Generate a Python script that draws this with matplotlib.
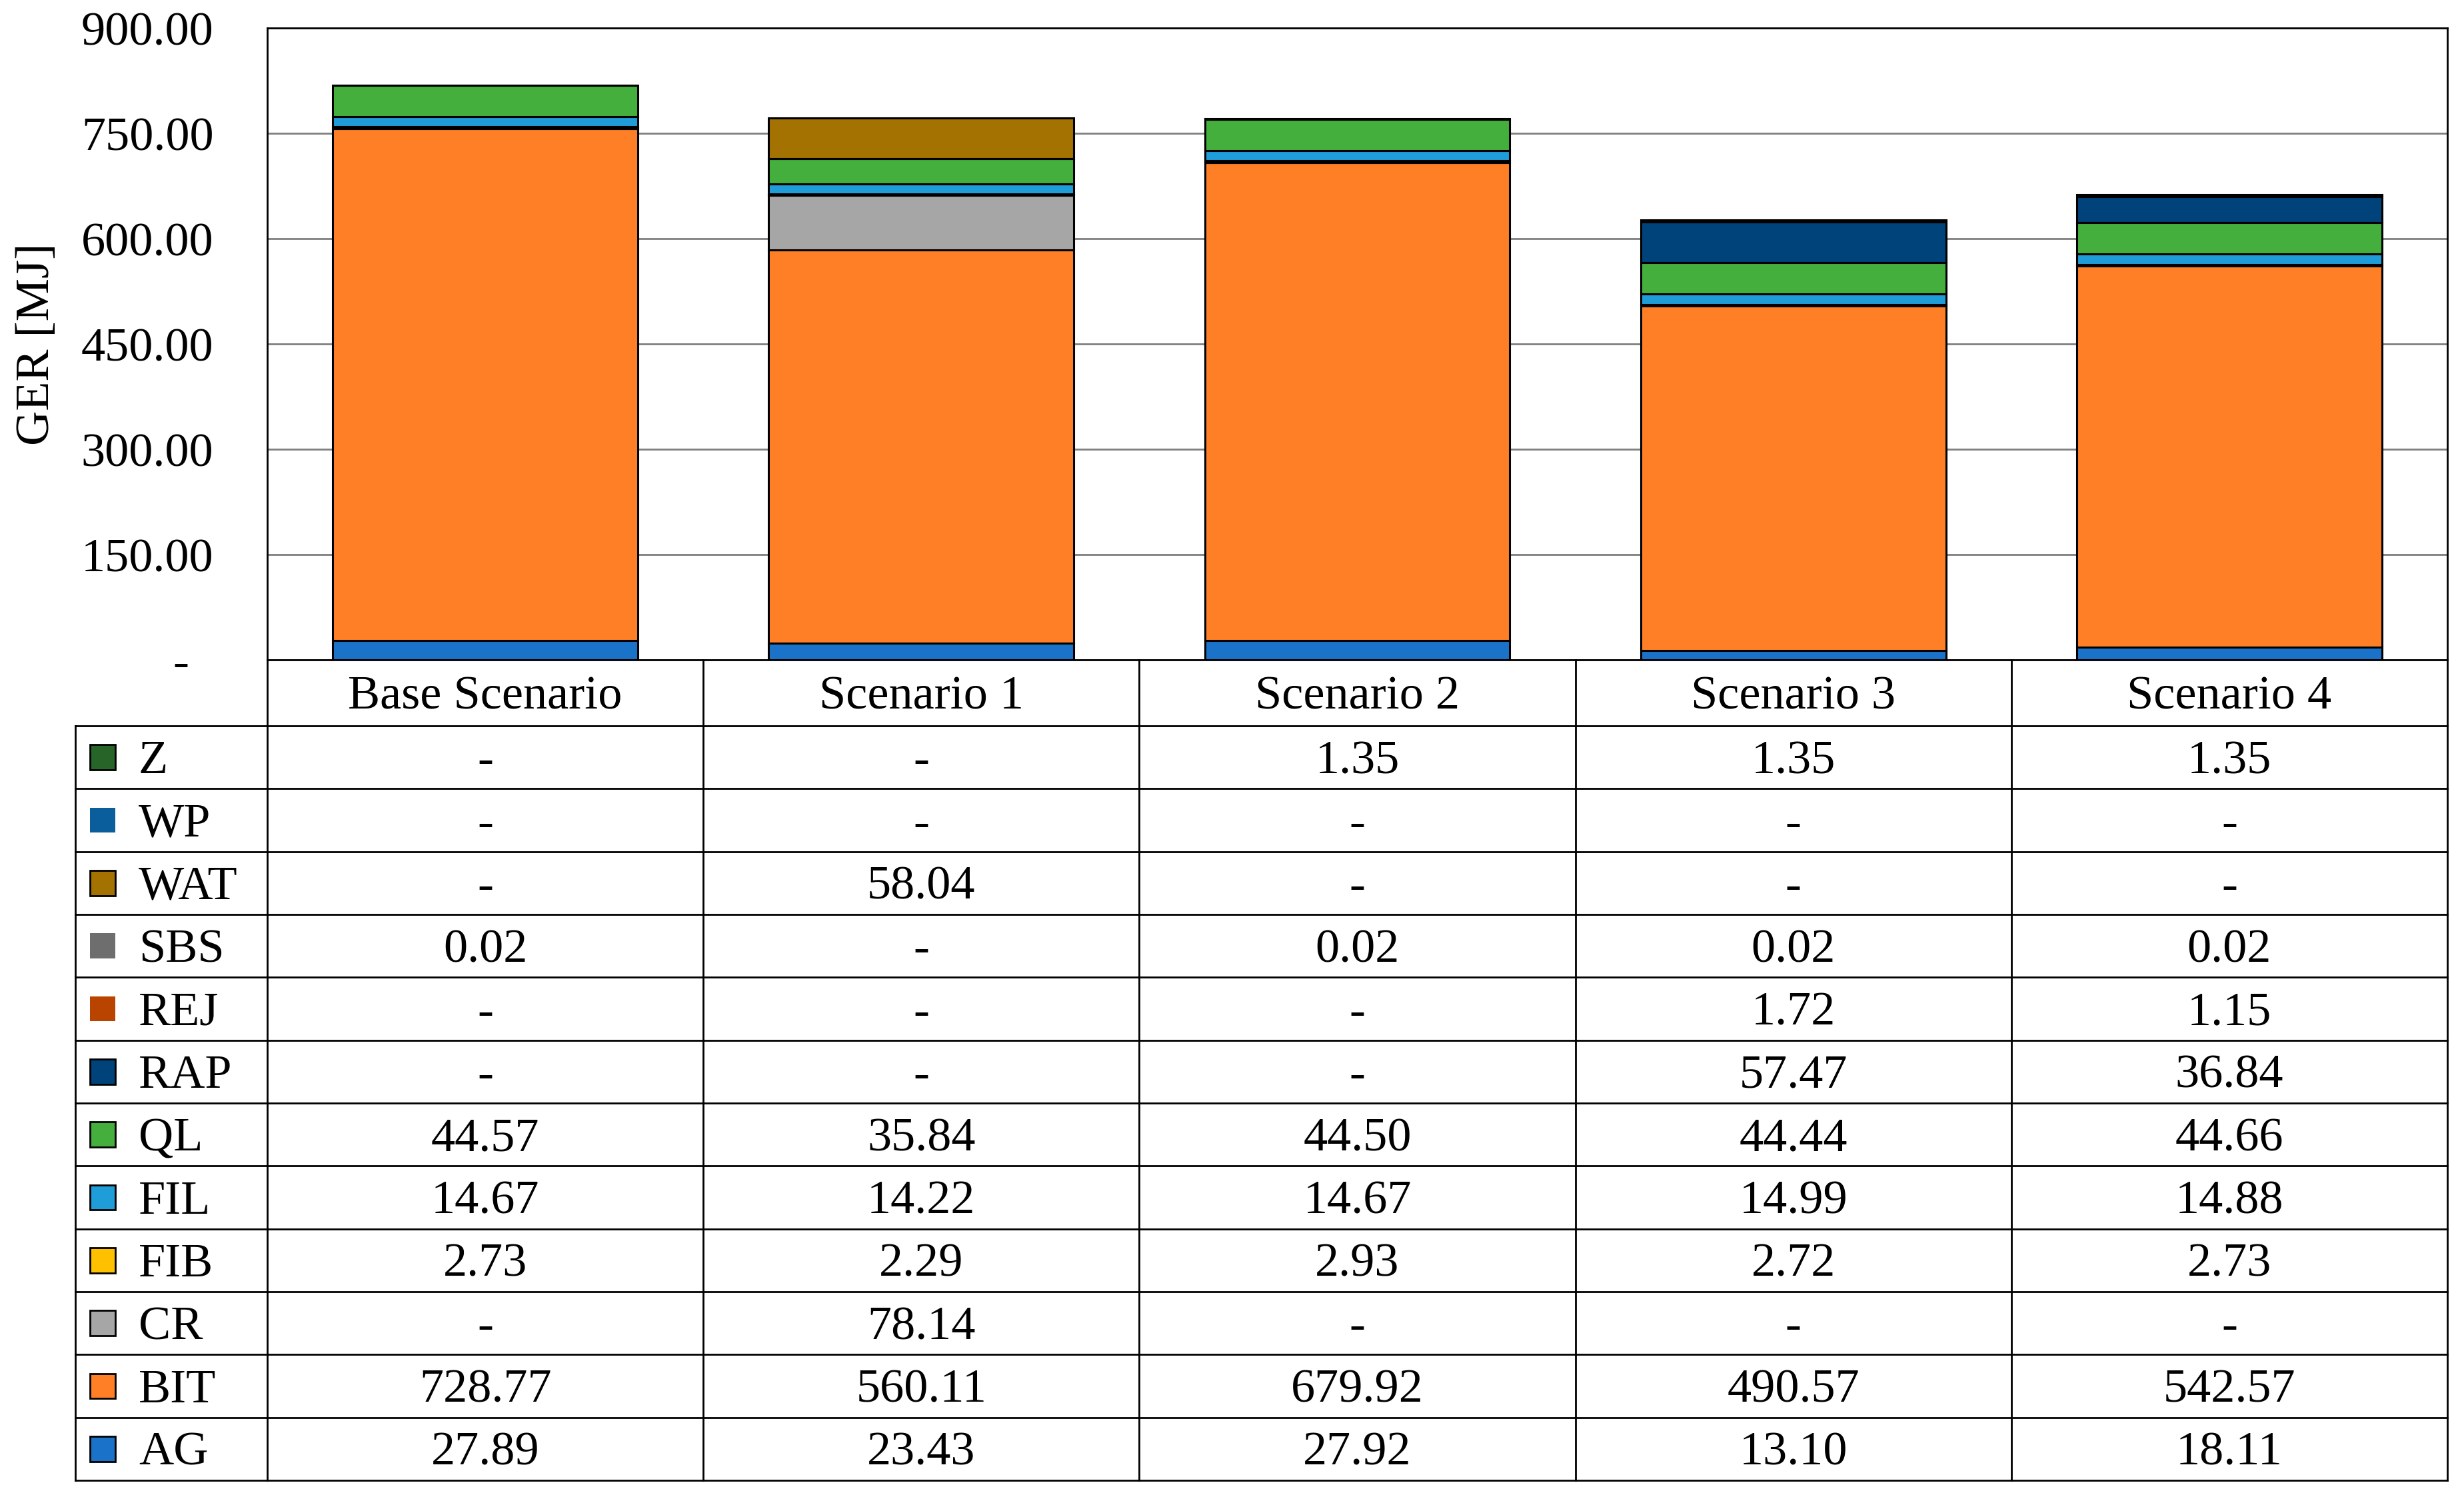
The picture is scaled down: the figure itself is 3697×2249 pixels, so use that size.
import numpy as np
import matplotlib.pyplot as plt
from matplotlib.patches import Rectangle

plt.rcParams['font.family'] = ['Liberation Serif', 'DejaVu Serif']

scenarios = ["Base Scenario", "Scenario 1", "Scenario 2", "Scenario 3", "Scenario 4"]

# stack order, bottom to top
AG = [27.89, 23.43, 27.92, 13.10, 18.11]
BIT = [728.77, 560.11, 679.92, 490.57, 542.57]
CR = [0, 78.14, 0, 0, 0]
FIB = [2.73, 2.29, 2.93, 2.72, 2.73]
FIL = [14.67, 14.22, 14.67, 14.99, 14.88]
QL = [44.57, 35.84, 44.50, 44.44, 44.66]
RAP = [0, 0, 0, 57.47, 36.84]
REJ = [0, 0, 0, 1.72, 1.15]
SBS = [0.02, 0, 0.02, 0.02, 0.02]
WAT = [0, 58.04, 0, 0, 0]
WP = [0, 0, 0, 0, 0]
Z = [0, 0, 1.35, 1.35, 1.35]

series = [("AG", AG), ("BIT", BIT), ("CR", CR), ("FIB", FIB), ("FIL", FIL),
          ("QL", QL), ("RAP", RAP), ("REJ", REJ), ("SBS", SBS), ("WAT", WAT),
          ("WP", WP), ("Z", Z)]

colors = {"AG": "#1a73c9", "BIT": "#ff7f27", "CR": "#a6a6a6", "FIB": "#ffc000",
          "FIL": "#1f9dd9", "QL": "#44af3c", "RAP": "#00427a", "REJ": "#b84400",
          "SBS": "#6e6e6e", "WAT": "#a37200", "WP": "#0b5e9c", "Z": "#276427"}
no_edge = {"WP", "SBS", "REJ"}

W, H = 3697, 2249
fig = plt.figure(figsize=(W / 100, H / 100), dpi=100)

fs = 52
lw = 2.0

# bar area
ax_l, ax_r, ax_t, ax_b = 401, 3672, 42, 990
ax = fig.add_axes([ax_l / W, 1 - ax_b / H, (ax_r - ax_l) / W, (ax_b - ax_t) / H])
x = np.arange(len(scenarios))
bottom = np.zeros(len(scenarios))
for name, vals in series:
    vals = np.array(vals, dtype=float)
    ec = "none" if name in no_edge else "black"
    ax.bar(x, vals, width=0.7, bottom=bottom, color=colors[name],
           edgecolor=ec, linewidth=2.2, zorder=3)
    bottom += vals

ax.set_xlim(-0.5, 4.5)
ax.set_ylim(0, 900)
ax.set_yticks(np.arange(0, 901, 150))
ax.set_yticklabels(["-  "] + [f"{v:.2f}" for v in np.arange(150, 901, 150)])
ax.tick_params(axis="y", length=0, pad=58, labelsize=fs)
for lab in ax.get_yticklabels():
    lab.set_va("center_baseline")
ax.set_xticks([])
ax.grid(axis="y", color="#7f7f7f", linewidth=2.0, zorder=0)
ax.set_axisbelow(True)
for s in ax.spines.values():
    s.set_linewidth(lw)
ax.set_ylabel("GER [MJ]", fontsize=fs, labelpad=24)

# data table under the bars
t_l, t_r, t_t, t_b = 113, 3672, 990, 2221
tax = fig.add_axes([t_l / W, 1 - t_b / H, (t_r - t_l) / W, (t_b - t_t) / H])
col_w = (ax_r - ax_l) / 5
leg_w = (ax_l - t_l) / col_w
x0 = -0.5 - leg_w
head_h = 1.05
n_rows = len(series)
tax.set_xlim(x0, 4.5)
tax.set_ylim(head_h + n_rows, 0)
tax.axis("off")

kw = dict(color="black", linewidth=lw, clip_on=False, solid_capstyle="projecting")
for i in range(n_rows + 1):
    y = head_h + i
    tax.plot([x0, 4.5], [y, y], **kw)
tax.plot([x0, x0], [head_h, head_h + n_rows], **kw)
for xv in np.arange(-0.5, 4.6, 1.0):
    tax.plot([xv, xv], [0, head_h + n_rows], **kw)

dy = 0.07
for j, sc in enumerate(scenarios):
    tax.text(j, head_h / 2 + dy, sc, ha="center", va="center", fontsize=fs)

table_rows = series[::-1]
for i, (name, vals) in enumerate(table_rows):
    yc = head_h + i + 0.5
    ec = "none" if name in no_edge else "black"
    sw = 38 / col_w
    sh = 0.40
    tax.add_patch(Rectangle((x0 + 22 / col_w, yc - sh / 2), sw, sh,
                            facecolor=colors[name], edgecolor=ec, linewidth=lw,
                            clip_on=False))
    tax.text(x0 + 95 / col_w, yc + dy, name, ha="left", va="center", fontsize=fs)
    for j, v in enumerate(vals):
        label = "-" if v == 0 else f"{v:.2f}"
        tax.text(j, yc + dy, label, ha="center", va="center", fontsize=fs)

fig.savefig("out.png", dpi=100)
